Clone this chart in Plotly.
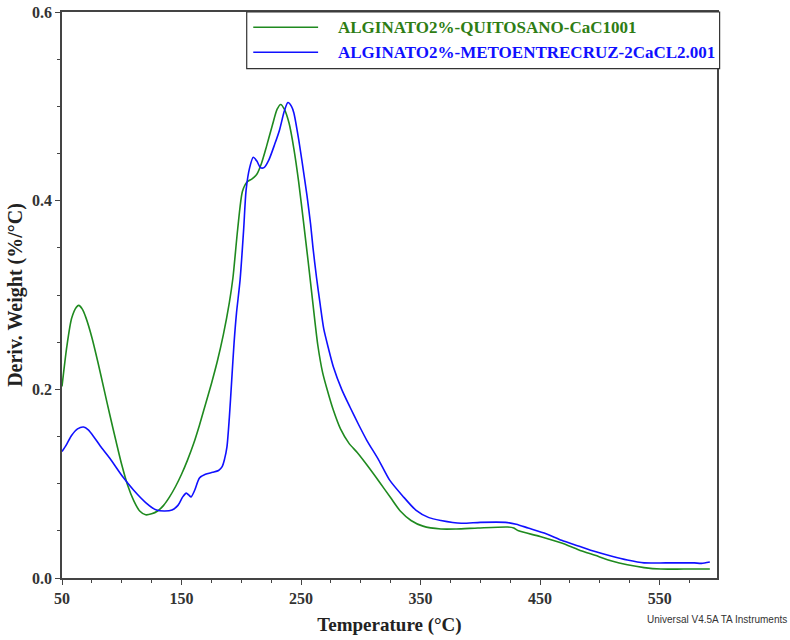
import plotly.graph_objects as go

# Derivative thermogravimetric curves (DTG), % weight loss per °C
temp_quitosano = [50, 54, 58, 62, 64, 67, 70, 75, 80, 85, 90, 95, 100, 105, 110, 115, 120, 125,
                  130, 135, 140, 145, 150, 155, 160, 165, 170, 175, 180, 185, 190, 193, 197, 201,
                  205, 209, 213, 217, 221, 226, 230, 233, 236, 240, 244, 248, 252, 256, 260, 264,
                  268, 272, 277, 283, 290, 297, 305, 316, 325, 333, 342, 352, 367, 380, 398, 423,
                  428, 432, 450, 468, 482, 496, 510, 523, 537, 551, 570, 592]
deriv_quitosano = [0.203, 0.245, 0.275, 0.287, 0.289, 0.285, 0.276, 0.255, 0.229, 0.201, 0.173,
                   0.146, 0.120, 0.098, 0.082, 0.071, 0.067, 0.068, 0.071, 0.077, 0.086, 0.097,
                   0.110, 0.125, 0.142, 0.162, 0.184, 0.206, 0.230, 0.258, 0.292, 0.318, 0.370,
                   0.410, 0.420, 0.423, 0.428, 0.440, 0.457, 0.480, 0.497, 0.502, 0.497, 0.482,
                   0.455, 0.420, 0.378, 0.335, 0.290, 0.247, 0.218, 0.199, 0.178, 0.158, 0.143,
                   0.133, 0.120, 0.101, 0.085, 0.071, 0.061, 0.055, 0.052, 0.052, 0.053, 0.054,
                   0.053, 0.050, 0.044, 0.037, 0.030, 0.024, 0.018, 0.014, 0.011, 0.0095, 0.0095,
                   0.0095]

temp_entrecruz = [50, 54, 58, 63, 68, 72, 77, 82, 90, 101, 110, 120, 129, 136, 142, 147, 151, 154,
                  156, 158, 161, 165, 170, 176, 181, 184, 186, 188, 190, 192, 194, 196, 199, 202,
                  204, 207, 210, 213, 216, 219, 223, 228, 232, 236, 239, 242, 244, 248, 251, 255,
                  258, 260, 263, 266, 269, 273, 277, 284, 291, 298, 305, 315, 324, 335, 346, 357,
                  367, 384, 400, 421, 430, 440, 455, 468, 482, 496, 510, 523, 537, 555, 570, 579,
                  585, 592]
deriv_entrecruz = [0.134, 0.142, 0.151, 0.158, 0.160, 0.157, 0.149, 0.140, 0.127, 0.107, 0.093,
                   0.080, 0.072, 0.071, 0.072, 0.077, 0.086, 0.090, 0.088, 0.086, 0.093, 0.106,
                   0.110, 0.112, 0.114, 0.118, 0.126, 0.139, 0.170, 0.210, 0.250, 0.281, 0.316,
                   0.370, 0.411, 0.435, 0.446, 0.442, 0.435, 0.435, 0.443, 0.460, 0.475, 0.495,
                   0.504, 0.500, 0.493, 0.465, 0.440, 0.405, 0.375, 0.350, 0.318, 0.290, 0.264,
                   0.243, 0.224, 0.200, 0.181, 0.163, 0.146, 0.125, 0.104, 0.087, 0.072, 0.064,
                   0.061, 0.058, 0.059, 0.059, 0.057, 0.053, 0.047, 0.040, 0.034, 0.028, 0.023,
                   0.019, 0.016, 0.016, 0.016, 0.016, 0.0155, 0.017]

series_names = ["ALGINATO2%-QUITOSANO-CaC1001", "ALGINATO2%-METOENTRECRUZ-2CaCL2.001"]
series_colors = ["#1f8a1f", "#1010ff"]
legend_text_colors = ["#2e7d14", "#1010ff"]

x_ticks = [50, 150, 250, 350, 450, 550]
y_ticks = [0.0, 0.2, 0.4, 0.6]

SERIF = "Liberation Serif, Times New Roman, serif"
AXIS_COLOR = "#444444"

fig = go.Figure()
for xs, ys, name, color in zip([temp_quitosano, temp_entrecruz],
                               [deriv_quitosano, deriv_entrecruz],
                               series_names, series_colors):
    fig.add_trace(go.Scatter(x=xs, y=ys, mode="lines", name=name,
                             line=dict(color=color, width=1.6, shape="spline", smoothing=0.7),
                             showlegend=False))

# Boxed legend in the upper right corner
fig.add_shape(type="rect", xref="paper", yref="paper", x0=0.282, x1=1.004, y0=0.9, y1=1.0,
              line=dict(color="#333333", width=1.2), fillcolor="white", layer="above")
for i, (name, color, tcolor) in enumerate(zip(series_names, series_colors, legend_text_colors)):
    ypos = 0.973 - i * 0.044
    fig.add_shape(type="line", xref="paper", yref="paper", x0=0.292, x1=0.391, y0=ypos, y1=ypos,
                  line=dict(color=color, width=1.4), layer="above")
    fig.add_annotation(xref="paper", yref="paper", x=0.418, y=ypos, xanchor="left", yanchor="middle",
                       text=name, showarrow=False,
                       font=dict(family=SERIF, size=17, color=tcolor, weight="bold"))

fig.add_annotation(xref="paper", yref="paper", x=1.11, y=-0.073, xanchor="right", yanchor="middle",
                   text="Universal V4.5A TA Instruments", showarrow=False,
                   font=dict(family="Liberation Sans, Arial, sans-serif", size=10, color="#333333"))

axis_common = dict(showline=True, linecolor=AXIS_COLOR, linewidth=1.5, mirror=True,
                   ticks="outside", ticklen=5, tickwidth=1.3, tickcolor=AXIS_COLOR,
                   showgrid=False, zeroline=False,
                   tickfont=dict(family=SERIF, size=16, color="#333333", weight="bold"))

fig.update_xaxes(range=[50, 598], tickvals=x_ticks, ticktext=[str(v) for v in x_ticks],
                 minor=dict(dtick=25, tick0=50, ticks="outside", ticklen=3, tickcolor=AXIS_COLOR),
                 title=dict(text="Temperature (°C)", standoff=12,
                            font=dict(family=SERIF, size=19, color="#222222", weight="bold")),
                 automargin=False, **axis_common)
fig.update_yaxes(range=[0, 0.6], tickvals=y_ticks, ticktext=[f"{v:.1f}" for v in y_ticks],
                 minor=dict(dtick=0.05, tick0=0, ticks="outside", ticklen=3, tickcolor=AXIS_COLOR),
                 title=dict(text="Deriv. Weight (%/°C)", standoff=4,
                            font=dict(family=SERIF, size=20, color="#222222", weight="bold")),
                 automargin=False, **axis_common)

fig.update_layout(width=790, height=640, plot_bgcolor="white", paper_bgcolor="white",
                  margin=dict(l=62, r=73, t=12, b=62))

fig.write_html("out.html")
